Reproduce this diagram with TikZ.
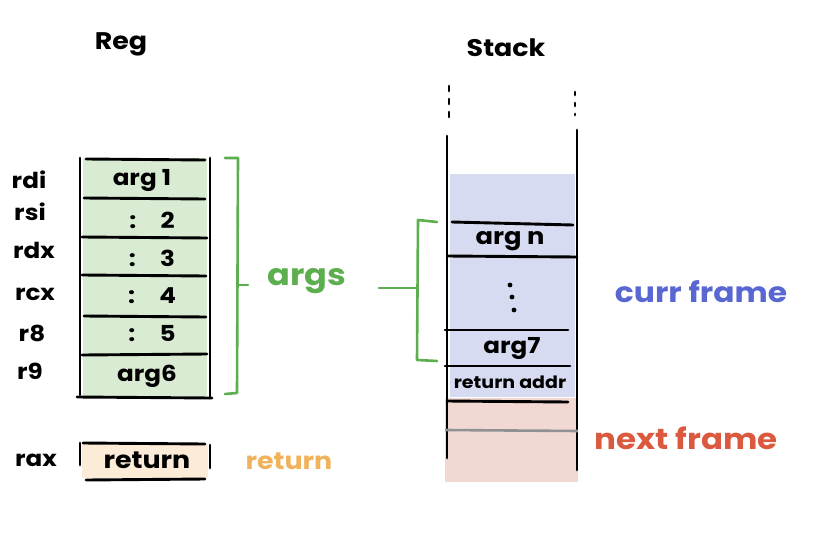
\documentclass[tikz,border=0pt]{standalone}
\usepackage{fontspec}
\setmainfont[FakeStretch=1.12]{Poppins}
\definecolor{gfill}{HTML}{D9EBD3}
\definecolor{gline}{HTML}{5DAE4F}
\definecolor{bfill}{HTML}{D6DBF1}
\definecolor{btext}{HTML}{5867D2}
\definecolor{pfill}{HTML}{F2D8D2}
\definecolor{rtext}{HTML}{DB5A3F}
\definecolor{ofill}{HTML}{FCEBD6}
\definecolor{otext}{HTML}{F0B35C}
\definecolor{gray1}{HTML}{8F9192}
\newcommand{\fsz}[1]{\fontsize{#1}{#1}\selectfont\bfseries}
\tikzset{
  ink/.style={line width=2.9pt, line cap=round, black},
  txt/.style={font=\fsz{22}, inner sep=1pt},
  lab/.style={font=\fsz{22}, inner sep=1pt},
  big/.style={font=\fsz{24}, inner sep=1pt},
  brace/.style={line width=2.6pt, gline, line cap=round, line join=round},
  dot/.style={fill=black, circle, inner sep=0pt, minimum size=4.8pt},
}
\begin{document}
\begin{tikzpicture}[x=1pt,y=-1pt]
\useasboundingbox (0,0) rectangle (824,535);
% titles
\node[big] (regt) at (121,44) {Reg};
\node[big] (stackt) at (506,48) {Stack};
% register fill
\fill[gfill] (83,158) rectangle (207,396);
\draw[ink] (80,158) -- (80,395);
\draw[ink] (210,158) -- (210,398);
\draw[ink] (86,159) -- (205,160);
\draw[ink] (84,198) -- (205,199);
\draw[ink] (82,237) -- (207,238);
\draw[ink] (82,275) -- (206,276);
\draw[ink] (84,316) -- (206,317);
\draw[ink] (82,355) -- (207,354);
\draw[ink] (77,397) -- (212,398);
% register names
\node[lab] (rdi) at (29,180) {rdi};
\node[lab] (rsi) at (30,212) {rsi};
\node[lab] (rdx) at (34,250) {rdx};
\node[lab] (rcx) at (35,294) {rcx};
\node[lab] (r8) at (32,333) {r8};
\node[lab] (r9) at (30,371) {r9};
% cell contents
\node[txt] (a1) at (142,180) {arg 1};
\node[txt] (a2) at (152,220) {:\hspace{1.1em}2};
\node[txt] (a3) at (152,258) {:\hspace{1.1em}3};
\node[txt] (a4) at (152,296) {:\hspace{1.1em}4};
\node[txt] (a5) at (152,334) {:\hspace{1.1em}5};
\node[txt] (a6) at (147,376) {arg6};
% left brace
\draw[brace] (225,158) -- (238,158) -- (237,393) -- (225,394);
\coordinate (lbm) at (237,285);
\draw[brace] (lbm) -- (248,285);
\node[font=\fsz{30}, inner sep=1pt, text=gline] (args) at (307,281) {args};
% stack fills
\fill[bfill] (450,174) rectangle (575,397);
\fill[pfill] (445,398) rectangle (578,482);
% stack rails
\draw[ink] (447,136) -- (447,458);
\draw[ink] (577,130) -- (577,470);
\draw[ink, dash pattern=on 5pt off 8pt] (449,86) -- (449,118);
\draw[ink, dash pattern=on 3pt off 8pt] (575,92) -- (575,115);
% stack lines
\draw[ink] (452,222) -- (573,225);
\draw[ink] (447,256) -- (577,257);
\draw[ink] (445,330) -- (568,330);
\draw[ink] (445,366) -- (570,366);
\draw[ink] (447,401) -- (568,402);
\draw[line width=2.6pt, gray1] (445,430) -- (578,431);
% stack contents
\node[txt, font=\fsz{23}] (an) at (510,241) {arg n};
\node[dot] (d1) at (510,285) {};
\node[dot] (d2) at (512,297) {};
\node[dot] (d3) at (514,310) {};
\node[txt] (a7) at (512,349) {arg7};
\node[txt, font=\fsz{17}] (ra) at (510,382) {return addr};
% right brace
\draw[brace] (437,222) -- (418,220) -- (417,360) -- (437,361);
\coordinate (rbm) at (417,288);
\coordinate (rbs) at (379,288);
\draw[brace] (rbs) -- (rbm);
% frame labels
\node[font=\fsz{28}, inner sep=1pt, text=btext] (curr) at (701,292) {curr frame};
\node[font=\fsz{29}, inner sep=1pt, text=rtext] (next) at (686,438) {next frame};
% rax
\node[lab] (rax) at (36,460) {rax};
\fill[ofill] (82,444) rectangle (208,478);
\draw[ink] (80,443) -- (80,465);
\draw[ink] (210,445) -- (210,468);
\draw[ink] (83,443) -- (205,444);
\draw[ink] (86,480) -- (205,479);
\node[txt, font=\fsz{24}] (retv) at (147,460) {return};
\node[font=\fsz{24}, inner sep=1pt, text=otext] (rett) at (289,461) {return};
\end{tikzpicture}
\end{document}
